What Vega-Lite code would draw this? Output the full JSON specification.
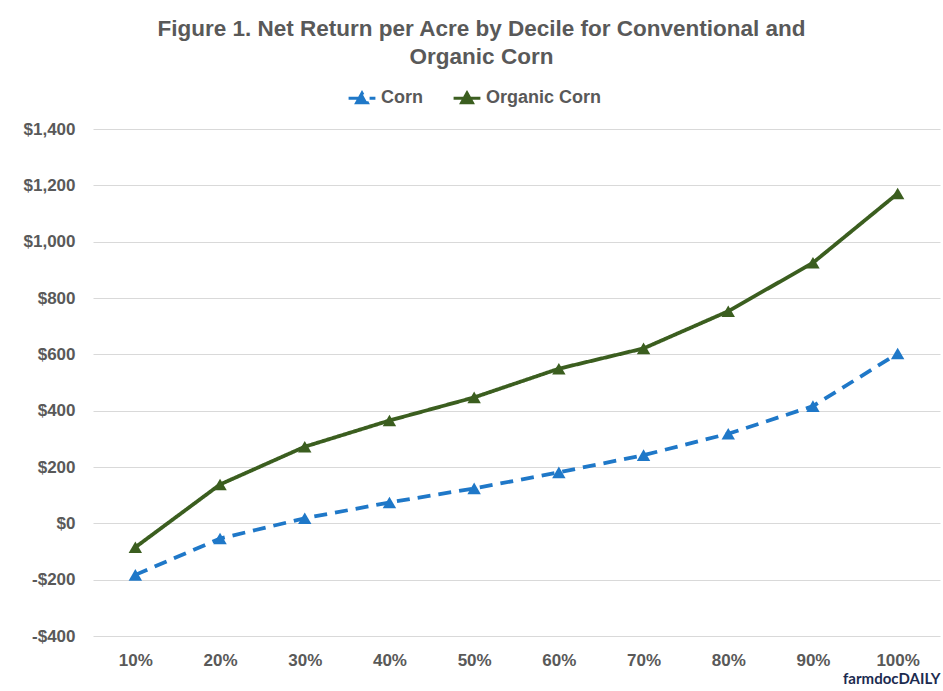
{
  "$schema": "https://vega.github.io/schema/vega-lite/v6.json",
  "autosize": "none",
  "width": 847,
  "height": 507,
  "padding": {"left": 93, "top": 129, "right": 3, "bottom": 55},
  "background": "white",
  "title": {
    "text": ["Figure 1. Net Return per Acre by Decile for Conventional and", "Organic Corn"],
    "fontSize": 22.5,
    "font": "Liberation Sans",
    "fontWeight": "bold",
    "color": "#595959",
    "lineHeight": 28,
    "offset": 15,
    "dx": -35,
    "anchor": "middle"
  },
  "data": {
    "values": [
      {"decile": "10%", "series": "Corn", "value": -183},
      {"decile": "20%", "series": "Corn", "value": -54},
      {"decile": "30%", "series": "Corn", "value": 18},
      {"decile": "40%", "series": "Corn", "value": 74},
      {"decile": "50%", "series": "Corn", "value": 124},
      {"decile": "60%", "series": "Corn", "value": 181},
      {"decile": "70%", "series": "Corn", "value": 242},
      {"decile": "80%", "series": "Corn", "value": 318},
      {"decile": "90%", "series": "Corn", "value": 416},
      {"decile": "100%", "series": "Corn", "value": 603},
      {"decile": "10%", "series": "Organic Corn", "value": -85},
      {"decile": "20%", "series": "Organic Corn", "value": 138},
      {"decile": "30%", "series": "Organic Corn", "value": 272},
      {"decile": "40%", "series": "Organic Corn", "value": 365},
      {"decile": "50%", "series": "Organic Corn", "value": 447},
      {"decile": "60%", "series": "Organic Corn", "value": 549},
      {"decile": "70%", "series": "Organic Corn", "value": 621},
      {"decile": "80%", "series": "Organic Corn", "value": 753},
      {"decile": "90%", "series": "Organic Corn", "value": 925},
      {"decile": "100%", "series": "Organic Corn", "value": 1171}
    ]
  },
  "encoding": {
    "x": {
      "field": "decile",
      "type": "ordinal",
      "sort": null,
      "scale": {"type": "point", "padding": 0.5},
      "axis": {
        "labelAngle": 0,
        "labelPadding": 16,
        "labelFontSize": 17,
        "labelFont": "Liberation Sans",
        "labelFontWeight": "bold",
        "labelColor": "#595959",
        "domain": false,
        "ticks": false,
        "grid": false,
        "title": "farmdocDAILY",
        "titleAnchor": "end",
        "titleFont": "Lato",
        "titleFontWeight": "bold",
        "titleFontSize": 15,
        "titleColor": "#1c2b4f",
        "titlePadding": 3
      }
    },
    "y": {
      "field": "value",
      "type": "quantitative",
      "scale": {"domain": [-400, 1400], "nice": false, "zero": false},
      "axis": {
        "values": [-400, -200, 0, 200, 400, 600, 800, 1000, 1200, 1400],
        "labelExpr": "datum.value < 0 ? '-$' + format(-datum.value, ',') : '$' + format(datum.value, ',')",
        "labelPadding": 18,
        "labelFontSize": 17,
        "labelFont": "Liberation Sans",
        "labelFontWeight": "bold",
        "labelColor": "#595959",
        "domain": false,
        "ticks": false,
        "grid": true,
        "gridColor": "#d9d9d9",
        "gridWidth": 1.2,
        "title": null
      }
    },
    "color": {
      "field": "series",
      "type": "nominal",
      "scale": {"domain": ["Corn", "Organic Corn"], "range": ["#1f78c8", "#3b5e1f"]},
      "legend": {
        "title": null,
        "orient": "none",
        "direction": "horizontal",
        "legendX": 254,
        "legendY": -46,
        "symbolType": "M-1,0H1M-0.4,0.32L0,-0.4L0.4,0.32Z",
        "symbolSize": 720,
        "symbolStrokeWidth": 3,
        "labelFontSize": 18,
        "labelFont": "Liberation Sans",
        "labelFontWeight": "bold",
        "labelColor": "#595959",
        "labelOffset": 4,
        "columnPadding": 24,
        "encode": {
          "symbols": {
            "update": {
              "fill": {"scale": "color", "field": "value"},
              "stroke": {"scale": "color", "field": "value"},
              "opacity": {"value": 1}
            }
          }
        }
      }
    }
  },
  "layer": [
    {
      "mark": {"type": "line", "strokeWidth": 3.8},
      "encoding": {
        "strokeDash": {
          "field": "series",
          "type": "nominal",
          "scale": {"domain": ["Corn", "Organic Corn"], "range": [[13, 8], [1, 0]]},
          "legend": null
        }
      }
    },
    {
      "mark": {"type": "point", "shape": "triangle-up", "filled": true, "size": 180, "opacity": 1}
    }
  ],
  "config": {
    "view": {"stroke": null}
  }
}
